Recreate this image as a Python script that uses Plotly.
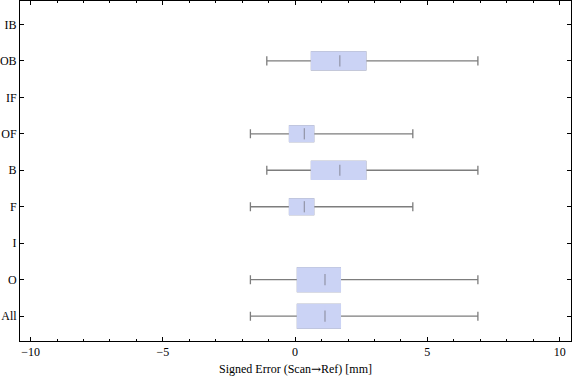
import plotly.graph_objects as go

# ---- data ----
categories = ["All", "O", "I", "F", "B", "OF", "IF", "OB", "IB"]
lower_whisker = [-1.69, -1.69, None, -1.69, -1.07, -1.69, None, -1.07, None]
q1_values = [0.09, 0.09, None, -0.21, 0.62, -0.21, None, 0.62, None]
median_values = [1.13, 1.13, None, 0.35, 1.69, 0.35, None, 1.69, None]
q3_values = [1.71, 1.71, None, 0.70, 2.67, 0.70, None, 2.67, None]
upper_whisker = [6.91, 6.91, None, 4.45, 6.91, 4.45, None, 6.91, None]
x_ticks = [-10, -5, 0, 5, 10]
x_title = 'Signed Error (Scan<span style="font-family:DejaVu Serif">→</span>Ref) [mm]'

# ---- styling ----
FILL = "#cbd3f5"
WHISK = "#7d7d7d"
FONT = "Liberation Serif"
BOX_WIDTH = {"All": 0.65, "O": 0.65, "F": 0.43, "OF": 0.43, "B": 0.49, "OB": 0.49}
CAP = 0.25  # whisker cap length in data units

fig = go.Figure()
for i, cat in enumerate(categories):
    if median_values[i] is None:
        continue
    w = BOX_WIDTH[cat]
    common = dict(
        y=[i], orientation="h", q1=[q1_values[i]], median=[median_values[i]],
        q3=[q3_values[i]], width=w, fillcolor=FILL, boxpoints=False,
        showlegend=False, hoverinfo="skip",
    )
    # whiskers (gray)
    fig.add_trace(go.Box(lowerfence=[lower_whisker[i]], upperfence=[upper_whisker[i]],
                         line=dict(color=WHISK, width=1.3), whiskerwidth=CAP / w, **common))
    # box body without outline / median line
    fig.add_trace(go.Box(lowerfence=[q1_values[i]], upperfence=[q3_values[i]],
                         line=dict(color=FILL, width=1.4), whiskerwidth=0, **common))

ys = [i for i, m in enumerate(median_values) if m is not None]
fig.add_trace(go.Scatter(
    x=[median_values[i] for i in ys], y=ys, mode="markers",
    marker=dict(symbol="line-ns", size=8, line=dict(width=1.3, color="rgba(115,115,125,0.6)")),
    showlegend=False, hoverinfo="skip",
))

axis_common = dict(
    showline=True, linecolor="black", linewidth=1, mirror="ticks",
    ticks="inside", tickcolor="black", zeroline=False, showgrid=False,
    automargin=False,
    tickfont=dict(family=FONT, size=12, color="black"),
)
fig.update_layout(
    width=576, height=381,
    margin=dict(l=20, r=5, t=1, b=40),
    paper_bgcolor="white", plot_bgcolor="white",
    boxmode="overlay",
    font=dict(family=FONT, size=12, color="black"),
    xaxis=dict(
        range=[-10.40, 10.43], tickvals=x_ticks, ticklen=4,
        minor=dict(dtick=1, ticklen=2, ticks="inside", tickcolor="black"),
        title=dict(text=x_title, font=dict(family=FONT, size=12), standoff=6),
        **axis_common,
    ),
    yaxis=dict(
        range=[-0.68, 8.64], tickvals=list(range(len(categories))), ticktext=categories,
        ticklen=4, **axis_common,
    ),
)

fig.write_html("out.html", config={"displayModeBar": False},
               post_script="document.body.style.margin='0';document.body.style.overflow='hidden';")
